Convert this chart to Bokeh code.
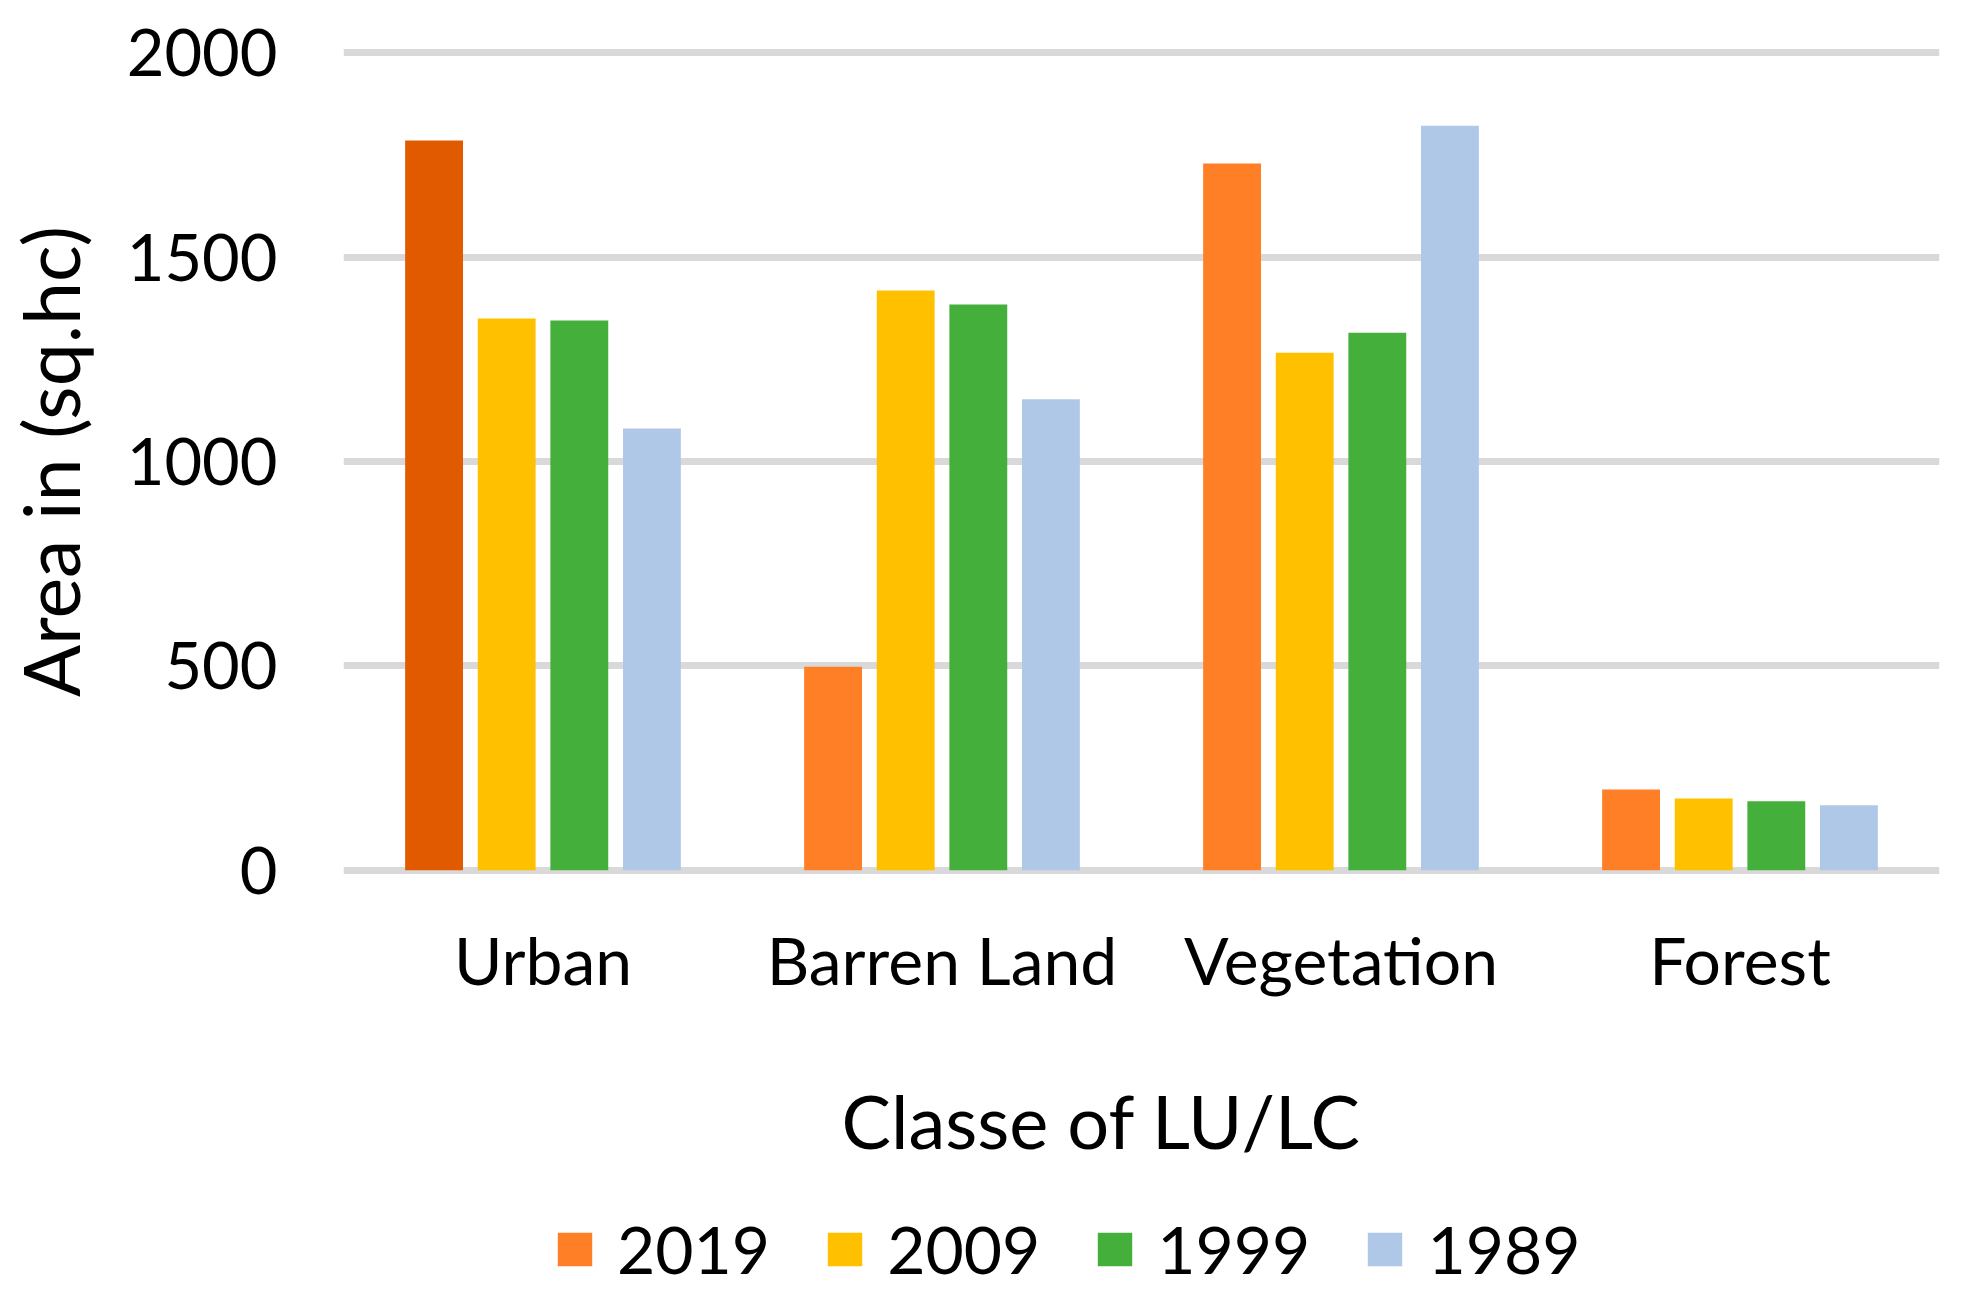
from bokeh.plotting import figure
from bokeh.layouts import column
from bokeh.models import FactorRange, Range1d, Legend, LegendItem, Title, ColumnDataSource, FixedTicker
from bokeh.transform import dodge
from bokeh.embed import file_html
from bokeh.resources import INLINE

# ---- data ----
classes = ["Urban", "Barren Land", "Vegetation", "Forest"]
years = ["2019", "2009", "1999", "1989"]
v2019 = [1785, 498, 1729, 198]
v2009 = [1350, 1418, 1266, 176]
v1999 = [1345, 1384, 1315, 169]
v1989 = [1081, 1152, 1821, 159]
y_ticks = [0, 500, 1000, 1500, 2000]
y_title = "Area in (sq.hc)"
x_title = "Classe of LU/LC"

FONT = "Lato"
ORANGE = "#FF7F27"
DARK_ORANGE = "#E15A00"
colors = [ORANGE, "#FFC000", "#45AF3B", "#AFC8E8"]
offsets = [-0.273, -0.091, 0.091, 0.273]

xr = FactorRange(*classes, range_padding=0)
p = figure(x_range=xr, y_range=Range1d(-15, 2015),
           frame_width=1596, frame_height=830,
           min_border_left=341, min_border_top=46, min_border_right=18, min_border_bottom=0,
           output_backend="svg", toolbar_location=None)
p.outline_line_color = None
p.background_fill_color = "white"
p.border_fill_color = "white"

c2019 = [DARK_ORANGE if c == "Urban" else ORANGE for c in classes]
src = ColumnDataSource(dict(cls=classes, s2019=v2019, s2009=v2009, s1999=v1999, s1989=v1989, c2019=c2019))
series = ["s2019", "s2009", "s1999", "s1989"]

for i, col in enumerate(series):
    fc = "c2019" if i == 0 else colors[i]
    p.vbar(x=dodge("cls", offsets[i], range=xr), top=col, bottom=0, width=0.145,
           source=src, fill_color=fc, line_color=None)

# grid
p.xgrid.visible = False
p.ygrid.ticker = FixedTicker(ticks=y_ticks)
p.ygrid.grid_line_color = "#D9D9D9"
p.ygrid.grid_line_width = 7

# y axis
ya = p.yaxis[0]
ya.ticker = FixedTicker(ticks=y_ticks)
ya.axis_line_color = None
ya.major_tick_line_color = None
ya.minor_tick_line_color = None
ya.major_tick_out = 0
ya.major_tick_in = 0
ya.major_label_standoff = 66
ya.major_label_text_font = FONT
ya.major_label_text_font_size = "65px"
ya.major_label_text_color = "black"
ya.axis_label = y_title
ya.axis_label_text_font = FONT
ya.axis_label_text_font_size = "77px"
ya.axis_label_text_font_style = "normal"
ya.axis_label_text_color = "black"
ya.axis_label_standoff = 28

# x axis (blank axis label only reserves space under the category labels)
xa = p.xaxis[0]
xa.axis_line_color = None
xa.major_tick_line_color = None
xa.minor_tick_line_color = None
xa.major_tick_out = 0
xa.major_tick_in = 0
xa.major_label_standoff = 43
xa.major_label_text_font = FONT
xa.major_label_text_font_size = "66px"
xa.major_label_text_color = "black"
xa.axis_label = " "
xa.axis_label_text_font_size = "10px"
xa.axis_label_standoff = 28

t = Title(text=x_title, align="left", offset=498, text_font=FONT, text_font_size="74px",
          text_font_style="normal", text_color="black", standoff=60)
p.add_layout(t, "below")

# ---- legend strip (same series, drawn outside its visible y range) ----
p2 = figure(x_range=xr, y_range=Range1d(5000, 6000),
            frame_width=1596, frame_height=89,
            min_border_left=341, min_border_top=0, min_border_right=18, min_border_bottom=0,
            output_backend="svg", toolbar_location=None)
p2.outline_line_color = None
p2.axis.visible = False
p2.grid.visible = False
p2.background_fill_color = "white"
p2.border_fill_color = "white"

items = []
for i, (col, yr) in enumerate(zip(series, years)):
    fc = "c2019" if i == 0 else colors[i]
    r = p2.vbar(x=dodge("cls", offsets[i], range=xr), top=col, bottom=0, width=0.145,
                source=src, fill_color=fc, line_color=None)
    items.append(LegendItem(label=yr, renderers=[r], index=1))

leg = Legend(items=items, orientation="horizontal", location=(210, -5),
             glyph_width=43, glyph_height=42, label_standoff=21, spacing=53,
             padding=0, margin=0, border_line_color=None, background_fill_alpha=0,
             label_text_font=FONT, label_text_font_size="66px", label_text_color="black")
p2.add_layout(leg, "center")

layout = column(p, p2, spacing=0)
open("out.html", "w").write(file_html(layout, INLINE))
